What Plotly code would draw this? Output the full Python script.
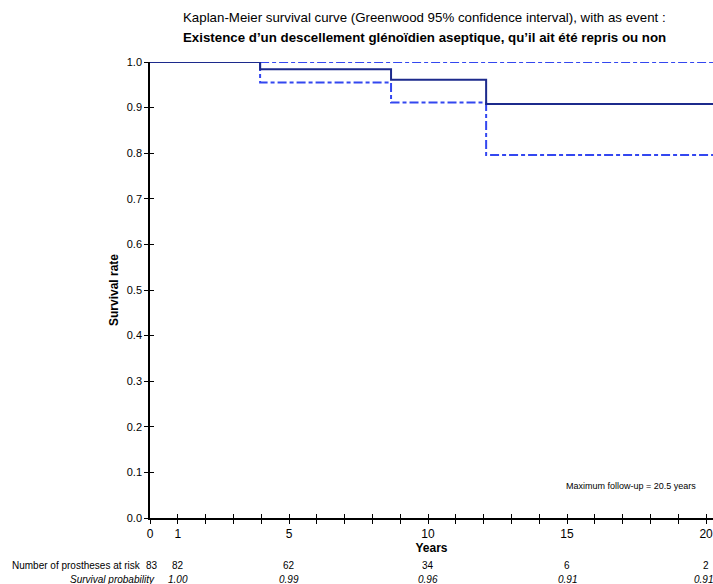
import plotly.graph_objects as go

# Kaplan-Meier estimate (step function)
km_years = [0, 3.96, 8.67, 12.09, 20.5]
km_surv = [1.0, 0.984, 0.961, 0.908, 0.908]

# Greenwood 95% CI
ci_years = [3.96, 3.96, 8.67, 12.09, 20.5]
ci_lower = [1.0, 0.955, 0.911, 0.796, 0.796]
ci_upper = [1.0, 1.0, 1.0, 1.0, 1.0]

# Risk table
risk_years = [0, 1, 5, 10, 15, 20]
risk_n = ["83", "82", "62", "34", "6", "2"]
risk_surv = ["", "1.00", "0.99", "0.96", "0.91", "0.91"]

x_label_vals = [0, 1, 5, 10, 15, 20]
x_all_ticks = list(range(0, 21))
y_ticks = [i / 10 for i in range(0, 11)]

FONT = "Liberation Sans, Arial, sans-serif"
CI_COLOR = "#3347f0"
KM_COLOR = "#1c2a8c"
CI_DASH = "9px,3px,4px,3px"

fig = go.Figure()
fig.add_trace(go.Scatter(x=ci_years, y=ci_upper, mode="lines", line_shape="hv",
                         line=dict(color=CI_COLOR, width=2, dash=CI_DASH),
                         showlegend=False, hoverinfo="skip"))
fig.add_trace(go.Scatter(x=ci_years, y=ci_lower, mode="lines", line_shape="hv",
                         line=dict(color=CI_COLOR, width=2, dash=CI_DASH),
                         showlegend=False, hoverinfo="skip"))
fig.add_trace(go.Scatter(x=km_years, y=km_surv, mode="lines", line_shape="hv",
                         line=dict(color=KM_COLOR, width=2),
                         showlegend=False))

xrange = [0, 20.25]
yrange = [0, 1.0]

fig.update_layout(
    width=713, height=584,
    margin=dict(l=150, r=0, t=62, b=66),
    paper_bgcolor="white", plot_bgcolor="white",
    font=dict(family=FONT, color="black", size=11),
    xaxis=dict(range=xrange, tickvals=x_label_vals, ticktext=[str(v) for v in x_label_vals],
               ticks="outside", ticklen=4, tickwidth=1, tickcolor="black",
               minor=dict(tickvals=x_all_ticks, ticks="outside", ticklen=4, tickwidth=1, tickcolor="black"),
               showline=True, linecolor="black", linewidth=1.5, showgrid=False, zeroline=False,
               tickfont=dict(size=12), automargin=False, ticklabeloverflow="allow",
               title=dict(text="<b>Years</b>", font=dict(size=12), standoff=0)),
    xaxis2=dict(range=xrange, overlaying="x", anchor="y", side="bottom",
                tickvals=x_all_ticks, ticks="inside", ticklen=4, tickwidth=1, tickcolor="black",
                showticklabels=False, showline=False, showgrid=False, zeroline=False, automargin=False),
    yaxis=dict(range=yrange, tickvals=y_ticks, tickformat=".1f",
               ticks="outside", ticklen=4, tickwidth=1, tickcolor="black",
               showline=True, linecolor="black", linewidth=1.5, showgrid=False, zeroline=False,
               tickfont=dict(size=11), automargin=False,
               title=dict(text="<b>Survival rate</b>", font=dict(size=12), standoff=6)),
    yaxis2=dict(range=yrange, overlaying="y", anchor="x", side="left",
                tickvals=y_ticks, ticks="inside", ticklen=4, tickwidth=1, tickcolor="black",
                showticklabels=False, showline=False, showgrid=False, zeroline=False, automargin=False),
)
# invisible trace to activate secondary axes
fig.add_trace(go.Scatter(x=[0], y=[0], xaxis="x2", yaxis="y2", mode="markers",
                         marker=dict(opacity=0), showlegend=False, hoverinfo="skip"))

ann = []
ann.append(dict(text="Kaplan-Meier survival curve (Greenwood 95% confidence interval), with as event :",
                xref="paper", yref="paper", x=0.488, y=1.0, yshift=45, showarrow=False,
                font=dict(size=13.3), xanchor="center", yanchor="middle"))
ann.append(dict(text="<b>Existence d\u2019un descellement gl\u00e9no\u00efdien aseptique, qu\u2019il ait \u00e9t\u00e9 repris ou non</b>",
                xref="paper", yref="paper", x=0.488, y=1.0, yshift=25, showarrow=False,
                font=dict(size=13.3), xanchor="center", yanchor="middle"))
ann.append(dict(text="Maximum follow-up = 20.5 years", xref="x", yref="y", x=19.7, y=0.07,
                showarrow=False, font=dict(size=9), xanchor="right", yanchor="middle"))
ann.append(dict(text="Number of prostheses at risk", xref="paper", yref="paper", x=0, xshift=-7,
                y=0, yshift=-47, showarrow=False, font=dict(size=10), xanchor="right", yanchor="middle"))
ann.append(dict(text="<i>Survival probability</i>", xref="paper", yref="paper", x=0, xshift=7,
                y=0, yshift=-61, showarrow=False, font=dict(size=10), xanchor="right", yanchor="middle"))
last = risk_years[-1]
for xv, n, s in zip(risk_years, risk_n, risk_surv):
    ann.append(dict(text=n, xref="x", yref="paper", x=xv, xshift=2 if xv == 0 else 0, y=0, yshift=-47,
                    showarrow=False, font=dict(size=10), xanchor="center", yanchor="middle"))
    if s:
        ann.append(dict(text="<i>" + s + "</i>", xref="x", yref="paper", x=xv,
                        xshift=-3 if xv == last else 0, y=0, yshift=-61,
                        showarrow=False, font=dict(size=10), xanchor="center", yanchor="middle"))
fig.update_layout(annotations=ann)

fig.write_html("out.html", config={"displayModeBar": False},
               post_script="document.body.style.margin='0';document.body.style.overflow='hidden';")
